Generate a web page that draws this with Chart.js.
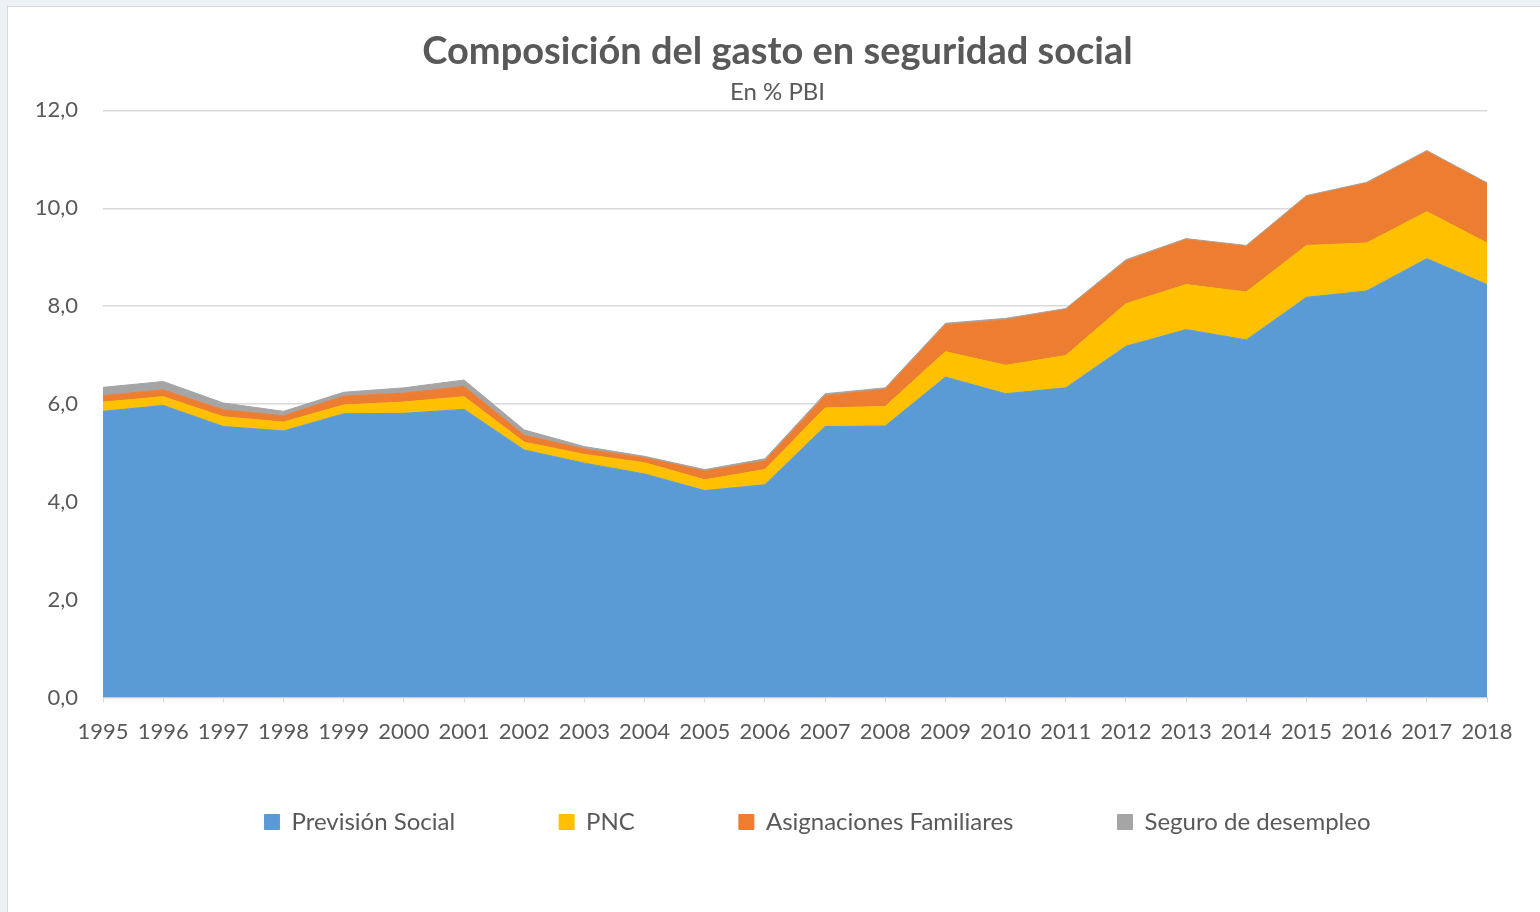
<!DOCTYPE html>
<html>
<head>
<meta charset="utf-8">
<script src="https://cdn.jsdelivr.net/npm/chart.js@4.4.1/dist/chart.umd.min.js"></script>
<style>
  body { margin: 0; background: #edf1f6; }
  #box { position: absolute; left: 7px; top: 6px; width: 1532px; height: 905px; background: #fff; border: 1px solid #d9d9d9; border-right: none; border-bottom: none; }
  canvas { display: block; }
</style>
</head>
<body>
<div id="box"><canvas id="myChart" width="1532" height="905"></canvas></div>
<script>
// years on the x axis
const years = ['1995','1996','1997','1998','1999','2000','2001','2002','2003','2004','2005','2006',
               '2007','2008','2009','2010','2011','2012','2013','2014','2015','2016','2017','2018'];

// gasto en % PBI
const prevision = [5.85, 5.97, 5.54, 5.45, 5.80, 5.81, 5.89, 5.06, 4.79, 4.57, 4.23, 4.35,
                   5.54, 5.55, 6.55, 6.21, 6.33, 7.18, 7.52, 7.31, 8.18, 8.31, 8.97, 8.44];
const pnc = [0.19, 0.18, 0.20, 0.18, 0.18, 0.23, 0.26, 0.16, 0.18, 0.23, 0.22, 0.31,
             0.38, 0.40, 0.52, 0.58, 0.66, 0.87, 0.92, 0.98, 1.06, 0.98, 0.96, 0.85];
const asignaciones = [0.13, 0.14, 0.14, 0.13, 0.18, 0.18, 0.21, 0.14, 0.11, 0.10, 0.18, 0.18,
                      0.25, 0.35, 0.55, 0.93, 0.94, 0.87, 0.92, 0.93, 1.00, 1.22, 1.23, 1.21];
const seguro = [0.17, 0.17, 0.14, 0.09, 0.08, 0.11, 0.13, 0.11, 0.05, 0.03, 0.03, 0.04,
                0.04, 0.03, 0.03, 0.03, 0.02, 0.03, 0.02, 0.02, 0.02, 0.02, 0.02, 0.02];

const yTicks = [0, 2, 4, 6, 8, 10, 12];

const grey = '#595959';
Chart.defaults.font.family = 'Lato';
Chart.defaults.color = grey;

function area(label, values, color, fill) {
  return {
    label: label,
    data: values,
    backgroundColor: color,
    borderColor: color,
    borderWidth: 1,
    pointRadius: 0,
    tension: 0,
    fill: fill
  };
}

// nudge title/subtitle over the plot and drop the legend row under the axis
const legendSpot = {
  id: 'legendSpot',
  afterLayout(chart) {
    chart.boxes.forEach(b => {
      if (b.position === 'top') {
        b.left += 20;
        b.right += 20;
      }
    });
    const lg = chart.legend;
    lg.top -= 55;
    lg.left += 60;
    lg.right += 60;
  }
};

const config = {
  type: 'line',
  data: {
    labels: years,
    datasets: [
      area('Previsión Social', prevision, '#5b9bd5', 'origin'),
      area('PNC', pnc, '#ffc000', '-1'),
      area('Asignaciones Familiares', asignaciones, '#ed7d31', '-1'),
      area('Seguro de desempleo', seguro, '#a5a5a5', '-1')
    ]
  },
  options: {
    responsive: false,
    animation: false,
    layout: { padding: { left: 20, right: 53, top: 0, bottom: 13 } },
    plugins: {
      title: {
        display: true,
        text: 'Composición del gasto en seguridad social',
        color: grey,
        font: { size: 38, weight: 'bold' },
        padding: { top: 22, bottom: 3 }
      },
      subtitle: {
        display: true,
        text: 'En % PBI',
        color: grey,
        font: { size: 24 },
        padding: { top: 0, bottom: 4 }
      },
      legend: {
        position: 'bottom',
        labels: {
          boxWidth: 15,
          boxHeight: 15,
          padding: 104,
          color: grey,
          font: { size: 24 }
        }
      },
      tooltip: { enabled: false }
    },
    scales: {
      x: {
        offset: false,
        grid: { drawOnChartArea: false, drawTicks: true, tickLength: 5, color: '#d9d9d9' },
        border: { color: '#d9d9d9', width: 1 },
        ticks: { padding: 16, maxRotation: 0, autoSkip: false, color: grey, font: { size: 22 } }
      },
      y: {
        stacked: true,
        min: 0,
        max: 12,
        afterBuildTicks(scale) { scale.ticks = yTicks.map(v => ({ value: v })); },
        afterFit(scale) { scale.width = 75; },
        grid: { color: '#d9d9d9', lineWidth: 1.5, drawTicks: false, tickLength: 0 },
        border: { display: false },
        ticks: {
          padding: 25,
          color: grey,
          font: { size: 22 },
          callback: v => v.toFixed(1).replace('.', ',')
        }
      }
    }
  },
  plugins: [legendSpot]
};

const myChart = new Chart(document.getElementById('myChart'), config);
</script>
</body>
</html>
